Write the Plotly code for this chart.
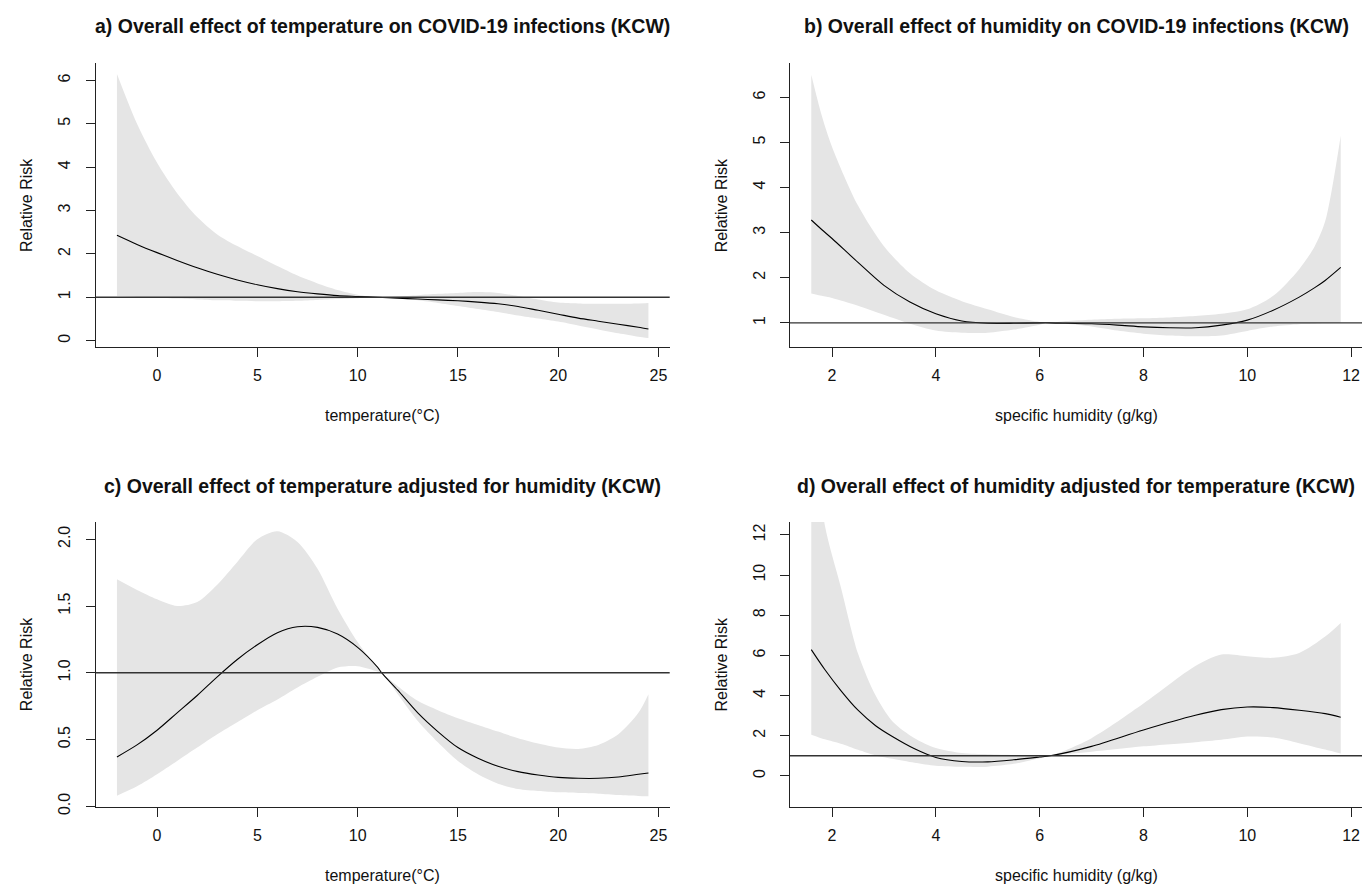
import plotly.graph_objects as go

# ---------------- data ----------------
# a) temperature, overall effect
temp_a = [-2, -1, 0, 1, 2, 3, 4, 5, 6, 7, 8, 9, 10, 11, 12, 13, 14, 15, 16, 17, 18, 19, 20, 21, 22, 23, 24, 24.5]
rr_a = [2.43, 2.22, 2.03, 1.85, 1.68, 1.53, 1.40, 1.29, 1.20, 1.13, 1.08, 1.04, 1.02, 1.00, 0.98, 0.96, 0.94, 0.92, 0.89, 0.85, 0.79, 0.70, 0.61, 0.52, 0.45, 0.38, 0.31, 0.27]
hi_a = [6.15, 5.00, 4.10, 3.40, 2.85, 2.45, 2.18, 1.95, 1.72, 1.50, 1.32, 1.17, 1.06, 1.00, 1.02, 1.05, 1.08, 1.10, 1.12, 1.10, 1.03, 0.95, 0.88, 0.86, 0.85, 0.85, 0.86, 0.87]
lo_a = [1.03, 1.01, 0.99, 0.97, 0.95, 0.93, 0.92, 0.91, 0.91, 0.92, 0.94, 0.96, 0.98, 1.00, 0.97, 0.93, 0.87, 0.80, 0.73, 0.66, 0.58, 0.51, 0.44, 0.35, 0.26, 0.17, 0.09, 0.06]

# b) humidity, overall effect
hum_b = [1.6, 1.8, 2.0, 2.5, 3.0, 3.5, 4.0, 4.5, 5.0, 5.5, 6.0, 6.2, 6.5, 7.0, 7.5, 8.0, 8.5, 9.0, 9.5, 10.0, 10.5, 11.0, 11.3, 11.5, 11.8]
rr_b = [3.28, 3.07, 2.87, 2.34, 1.83, 1.46, 1.20, 1.04, 0.99, 0.99, 1.00, 1.00, 0.99, 0.98, 0.95, 0.91, 0.89, 0.89, 0.95, 1.06, 1.28, 1.57, 1.78, 1.94, 2.23]
hi_b = [6.50, 5.60, 4.90, 3.60, 2.70, 2.10, 1.72, 1.48, 1.30, 1.13, 1.02, 1.00, 1.04, 1.07, 1.09, 1.10, 1.12, 1.15, 1.20, 1.30, 1.60, 2.19, 2.70, 3.25, 5.15]
lo_b = [1.65, 1.60, 1.55, 1.38, 1.18, 0.98, 0.83, 0.78, 0.78, 0.85, 0.96, 1.00, 0.98, 0.92, 0.83, 0.76, 0.72, 0.70, 0.72, 0.82, 0.92, 0.97, 0.98, 0.99, 1.00]

# c) temperature adjusted for humidity
temp_c = [-2, -1, 0, 1, 2, 3, 4, 5, 6, 7, 8, 9, 10, 11, 11.2, 12, 13, 14, 15, 16, 17, 18, 19, 20, 21, 22, 23, 24, 24.5]
rr_c = [0.37, 0.46, 0.57, 0.70, 0.83, 0.97, 1.10, 1.21, 1.30, 1.345, 1.34, 1.29, 1.19, 1.04, 1.00, 0.87, 0.70, 0.56, 0.44, 0.36, 0.30, 0.26, 0.235, 0.217, 0.21, 0.21, 0.22, 0.24, 0.25]
hi_c = [1.70, 1.62, 1.55, 1.50, 1.53, 1.66, 1.83, 2.00, 2.06, 1.98, 1.78, 1.48, 1.23, 1.03, 1.00, 0.90, 0.79, 0.72, 0.66, 0.61, 0.56, 0.51, 0.47, 0.44, 0.43, 0.46, 0.54, 0.70, 0.84]
lo_c = [0.08, 0.15, 0.24, 0.34, 0.44, 0.54, 0.63, 0.72, 0.80, 0.89, 0.97, 1.04, 1.05, 1.01, 1.00, 0.84, 0.64, 0.48, 0.34, 0.24, 0.17, 0.13, 0.115, 0.105, 0.10, 0.095, 0.085, 0.078, 0.075]

# d) humidity adjusted for temperature
hum_d = [1.6, 1.86, 2.17, 2.5, 2.84, 3.17, 3.59, 4.0, 4.5, 5.0, 5.5, 6.0, 6.2, 7.0, 8.0, 9.0, 9.5, 10.0, 10.5, 11.0, 11.5, 11.8]
rr_d = [6.29, 5.30, 4.25, 3.27, 2.50, 1.95, 1.35, 0.92, 0.72, 0.70, 0.80, 0.94, 1.00, 1.47, 2.29, 3.02, 3.30, 3.43, 3.40, 3.27, 3.10, 2.92]
hi_d = [18.0, 12.5, 9.4, 6.1, 4.0, 2.7, 1.88, 1.39, 1.14, 1.08, 1.04, 0.99, 1.00, 1.88, 3.60, 5.47, 6.04, 5.96, 5.88, 6.12, 6.94, 7.62]
lo_d = [2.05, 1.82, 1.60, 1.30, 1.02, 0.85, 0.65, 0.50, 0.45, 0.46, 0.60, 0.88, 1.00, 1.20, 1.47, 1.68, 1.80, 1.96, 1.91, 1.63, 1.31, 1.11]

titles = [
    "a) Overall effect of temperature on COVID-19 infections (KCW)",
    "b) Overall effect of humidity on COVID-19 infections (KCW)",
    "c) Overall effect of temperature adjusted for humidity (KCW)",
    "d) Overall effect of humidity adjusted for temperature (KCW)",
]
xtitles = ["temperature(°C)", "specific humidity (g/kg)", "temperature(°C)", "specific humidity (g/kg)"]
ytitle = "Relative Risk"

xticks_temp = [0, 5, 10, 15, 20, 25]
xticks_hum = [2, 4, 6, 8, 10, 12]
yticks_a = [0, 1, 2, 3, 4, 5, 6]
yticks_b = [1, 2, 3, 4, 5, 6]
yticks_c = [0.0, 0.5, 1.0, 1.5, 2.0]
yticks_d = [0, 2, 4, 6, 8, 10, 12]

# ---------------- layout geometry ----------------
W, H = 1371, 884
FONT = "Liberation Sans, Arial, sans-serif"
BAND = "#E5E5E5"
TXT = "#111111"

xdom_l = [87.7 / W, 661.7 / W]
xdom_r = [782.0 / W, 1354.0 / W]
ydom_t = [1 - 342.3 / H, 1 - 56.0 / H]
ydom_b = [1 - 806.3 / H, 1 - 518.6 / H]

panels = [
    dict(x=temp_a, rr=rr_a, hi=hi_a, lo=lo_a, xd=xdom_l, yd=ydom_t, xr=[-3.06, 25.56], yr=[-0.15, 6.39],
         xt=xticks_temp, yt=yticks_a, yfmt=None, ty=18),
    dict(x=hum_b, rr=rr_b, hi=hi_b, lo=lo_b, xd=xdom_r, yd=ydom_t, xr=[1.19, 12.21], yr=[0.46, 6.75],
         xt=xticks_hum, yt=yticks_b, yfmt=None, ty=18),
    dict(x=temp_c, rr=rr_c, hi=hi_c, lo=lo_c, xd=xdom_l, yd=ydom_b, xr=[-3.06, 25.56], yr=[-0.005, 2.13],
         xt=xticks_temp, yt=yticks_c, yfmt=".1f", ty=482),
    dict(x=hum_d, rr=rr_d, hi=hi_d, lo=lo_d, xd=xdom_r, yd=ydom_b, xr=[1.19, 12.21], yr=[-1.55, 12.65],
         xt=xticks_hum, yt=yticks_d, yfmt=None, ty=482),
]

fig = go.Figure()
annotations = []
shapes = []

for i, p in enumerate(panels):
    n = "" if i == 0 else str(i + 1)
    xa, ya = "x" + n, "y" + n
    # confidence band
    fig.add_trace(go.Scatter(x=p["x"], y=p["hi"], xaxis=xa, yaxis=ya, mode="lines",
                             line=dict(width=0, shape="spline", smoothing=0.8, color=BAND),
                             hoverinfo="skip", showlegend=False))
    fig.add_trace(go.Scatter(x=p["x"], y=p["lo"], xaxis=xa, yaxis=ya, mode="lines",
                             line=dict(width=0, shape="spline", smoothing=0.8, color=BAND),
                             fill="tonexty", fillcolor=BAND, hoverinfo="skip", showlegend=False))
    # reference line at RR = 1
    shapes.append(dict(type="line", xref=xa + " domain", yref=ya, x0=0, x1=1, y0=1, y1=1,
                       line=dict(color="#333333", width=1.4), layer="above"))
    # main curve
    fig.add_trace(go.Scatter(x=p["x"], y=p["rr"], xaxis=xa, yaxis=ya, mode="lines",
                             line=dict(width=1.1, shape="spline", smoothing=0.8, color="black"),
                             showlegend=False))

    axis_common = dict(showline=True, linecolor="#222222", linewidth=1, mirror=False,
                       showgrid=False, zeroline=False, ticks="outside", ticklen=9,
                       tickcolor="#222222", tickwidth=1,
                       tickfont=dict(family=FONT, size=16, color=TXT))
    fig.update_layout(**{
        ("xaxis" + n): dict(domain=p["xd"], range=p["xr"], anchor=ya, tickvals=p["xt"],
                            ticklabelstandoff=5, **axis_common),
        ("yaxis" + n): dict(domain=p["yd"], range=p["yr"], anchor=xa, tickvals=p["yt"],
                            tickangle=-90, ticklabelstandoff=9,
                            tickformat=p["yfmt"] if p["yfmt"] else "", **axis_common),
    })
    # panel title
    annotations.append(dict(text="<b>" + titles[i] + "</b>", xref=xa + " domain", yref="paper",
                            x=0.5, y=1 - p["ty"] / H, xanchor="center", yanchor="middle",
                            showarrow=False, font=dict(family=FONT, size=19.5, color=TXT)))
    # x-axis title
    annotations.append(dict(text=xtitles[i], xref=xa + " domain", yref=ya + " domain",
                            x=0.5, y=0, yshift=-68, xanchor="center", yanchor="middle",
                            showarrow=False, font=dict(family=FONT, size=16, color=TXT)))
    # y-axis title
    annotations.append(dict(text=ytitle, xref=xa + " domain", yref=ya + " domain",
                            x=0, y=0.5, xshift=-69, xanchor="center", yanchor="middle",
                            textangle=-90, showarrow=False,
                            font=dict(family=FONT, size=16, color=TXT)))

fig.update_layout(width=W, height=H, margin=dict(l=0, r=0, t=0, b=0),
                  plot_bgcolor="white", paper_bgcolor="white",
                  annotations=annotations, shapes=shapes, showlegend=False)

fig.write_html("out.html")
